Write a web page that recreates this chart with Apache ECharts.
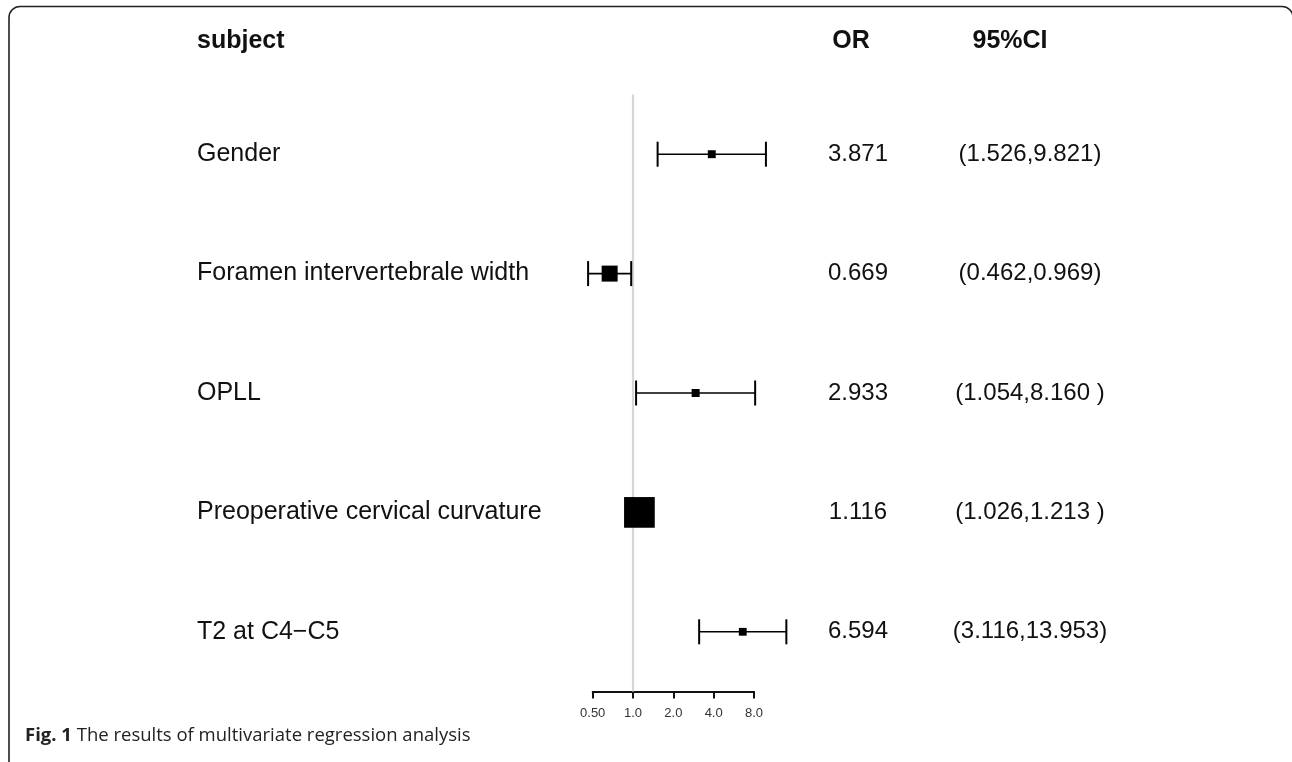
<!DOCTYPE html>
<html><head><meta charset="utf-8">
<script src="https://cdn.jsdelivr.net/npm/echarts@6/dist/echarts.min.js"></script>
<style>html,body{margin:0;padding:0;background:#fff}#c{width:1292px;height:762px}</style>
</head><body><div id="c"></div>
<script>
// ---- data ----
const subjects = ['Gender', 'Foramen intervertebrale width', 'OPLL', 'Preoperative cervical curvature', 'T2 at C4\u2212C5'];
const orValues = [3.871, 0.669, 2.933, 1.116, 6.594];
const ciLower  = [1.526, 0.462, 1.054, 1.026, 3.116];
const ciUpper  = [9.821, 0.969, 8.160, 1.213, 13.953];
const orLabels = ['3.871', '0.669', '2.933', '1.116', '6.594'];
const ciLabels = ['(1.526,9.821)', '(0.462,0.969)', '(1.054,8.160 )', '(1.026,1.213 )', '(3.116,13.953)'];
const tickValues = [0.5, 1, 2, 4, 8];
const tickLabels = ['0.50', '1.0', '2.0', '4.0', '8.0'];
const headers = ['subject', 'OR', '95%CI'];
const refValue = 1;
const captionBold = 'Fig. 1';
const captionText = ' The results of multivariate regression analysis';

// box size as in forestplot: proportional to 1/CI width, with a floor term
const info = ciUpper.map((u, i) => 1 / (u - ciLower[i]));
const maxInfo = Math.max(...info);
const BOX_SCALE = 23.3, BOX_BASE = 7.4;
const boxSizes = info.map(v => BOX_SCALE * v / maxInfo + BOX_BASE);

const forestData = subjects.map((s, i) => [i, orValues[i], ciLower[i], ciUpper[i], boxSizes[i]]);

const FONT = '"Liberation Sans", Arial, Helvetica, sans-serif';

const chart = echarts.init(document.getElementById('c'), null, {renderer: 'canvas'});

function renderForest(params, api) {
  const row = api.value(0);
  const p = api.coord([api.value(1), row]);
  const l = api.coord([api.value(2), row]);
  const h = api.coord([api.value(3), row]);
  const s = api.value(4);
  const cap = 12.5;
  const y = p[1];
  return {
    type: 'group',
    children: [
      {type: 'line', shape: {x1: l[0], y1: y, x2: h[0], y2: y}, style: {stroke: '#000', lineWidth: 1.6}},
      {type: 'line', shape: {x1: l[0], y1: y - cap, x2: l[0], y2: y + cap}, style: {stroke: '#000', lineWidth: 2}},
      {type: 'line', shape: {x1: h[0], y1: y - cap, x2: h[0], y2: y + cap}, style: {stroke: '#000', lineWidth: 2}},
      {type: 'rect', shape: {x: p[0] - s / 2, y: y - s / 2, width: s, height: s}, style: {fill: '#000'}}
    ]
  };
}

function renderRef(params, api) {
  const cs = params.coordSys;
  const x = api.coord([api.value(0), 0])[0];
  return {type: 'line', shape: {x1: x, y1: cs.y, x2: x, y2: cs.y + cs.height}, style: {stroke: '#d6d6d6', lineWidth: 2.2}};
}

const option = {
  backgroundColor: '#fff',
  animation: false,
  grid: {left: 592.7, right: 538, top: 94.5, bottom: 70.5},
  xAxis: {
    type: 'log', logBase: 2, min: tickValues[0], max: tickValues[tickValues.length - 1],
    axisLine: {show: true, lineStyle: {color: '#111', width: 2}},
    axisTick: {show: true, length: 7, lineStyle: {color: '#111', width: 2}},
    splitLine: {show: false},
    minorTick: {show: false},
    axisLabel: {
      margin: 15, fontSize: 13, color: '#333', fontFamily: FONT,
      formatter: v => {
        const i = tickValues.findIndex(t => Math.abs(t - v) < 1e-6);
        return i >= 0 ? tickLabels[i] : '';
      }
    }
  },
  yAxis: [
    {
      type: 'category', data: subjects, inverse: true,
      axisLine: {show: false}, axisTick: {show: false}, splitLine: {show: false},
      axisLabel: {align: 'left', margin: 395.7, fontSize: 25, color: '#111', fontFamily: FONT}
    },
    {
      type: 'category', data: orLabels, inverse: true, position: 'right',
      axisLine: {show: false}, axisTick: {show: false}, splitLine: {show: false},
      axisLabel: {align: 'center', margin: 104, fontSize: 24, color: '#111', fontFamily: FONT}
    },
    {
      type: 'category', data: ciLabels, inverse: true, position: 'right',
      axisLine: {show: false}, axisTick: {show: false}, splitLine: {show: false},
      axisLabel: {align: 'center', margin: 276, fontSize: 24, color: '#111', fontFamily: FONT}
    }
  ],
  series: [
    {type: 'custom', coordinateSystem: 'cartesian2d', xAxisIndex: 0, yAxisIndex: 0, z: 1,
     renderItem: renderRef, data: [[refValue]], encode: {x: 0}, silent: true},
    {type: 'custom', coordinateSystem: 'cartesian2d', xAxisIndex: 0, yAxisIndex: 0, z: 2,
     renderItem: renderForest, data: forestData, encode: {x: [1, 2, 3], y: 0}, clip: false}
  ],
  graphic: [
    {type: 'rect', shape: {x: 9, y: 6.5, width: 1284, height: 790, r: 11},
     style: {fill: 'none', stroke: '#222', lineWidth: 1.6}, silent: true},
    {type: 'text', x: 197, y: 41, style: {text: headers[0], font: 'bold 25px ' + FONT, fill: '#111', textAlign: 'left', textVerticalAlign: 'middle'}},
    {type: 'text', x: 851, y: 41, style: {text: headers[1], font: 'bold 25px ' + FONT, fill: '#111', textAlign: 'center', textVerticalAlign: 'middle'}},
    {type: 'text', x: 1010, y: 41, style: {text: headers[2], font: 'bold 25px ' + FONT, fill: '#111', textAlign: 'center', textVerticalAlign: 'middle'}},
    {type: 'text', x: 25, y: 736, style: {
      text: '{b|' + captionBold + '}' + captionText,
      font: '18.5px "Open Sans", sans-serif', fill: '#222', textVerticalAlign: 'middle',
      rich: {b: {fontWeight: 'bold', fontSize: 18.5, fontFamily: '"Open Sans", sans-serif', fill: '#222'}}
    }}
  ]
};
chart.setOption(option);
</script>
</body></html>
